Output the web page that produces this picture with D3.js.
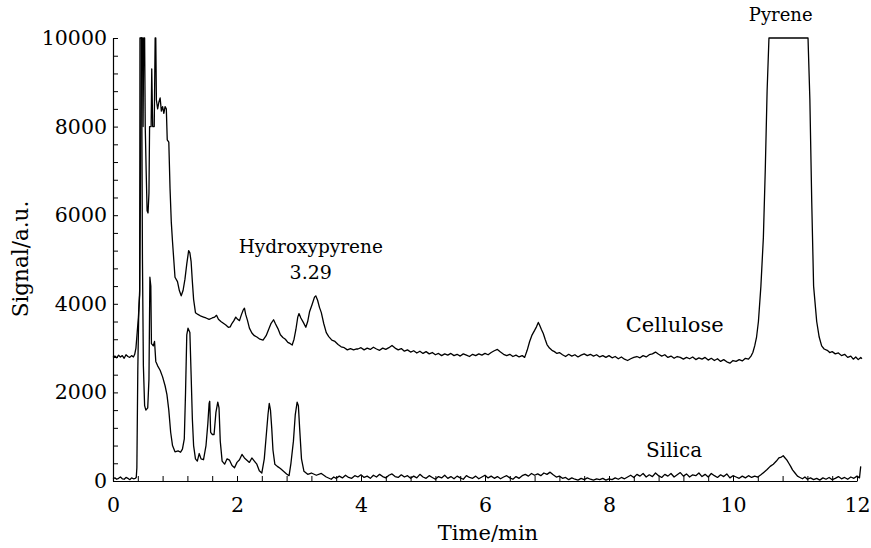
<!DOCTYPE html>
<html><head><meta charset="utf-8">
<script src="https://cdn.jsdelivr.net/npm/d3@7"></script>
<style>
body{margin:0;background:#fff}
svg{display:block}
text{font-family:"DejaVu Serif",serif;fill:#000}
</style>
</head><body>
<svg id="chart" width="871" height="548"></svg>
<script>
// ---- data (time in min, signal in a.u.) ----
const xTickLabels = [0, 2, 4, 6, 8, 10, 12];
const yTickLabels = [0, 2000, 4000, 6000, 8000, 10000];
const xLabel = "Time/min";
const yLabel = "Signal/a.u.";

const cellulose = [
[0.00,2790],[0.03,2820],[0.06,2780],[0.09,2840],[0.12,2800],[0.15,2830],[0.18,2770],[0.21,2850],[0.24,2810],[0.27,2790],[0.30,2830],[0.33,2800],[0.35,2860],
[0.37,3000],[0.39,3350],[0.41,3700],[0.43,4200],[0.445,7000],[0.455,10000],[0.475,10000],[0.485,8000],[0.495,10000],[0.51,10000],[0.52,8000],[0.535,7000],
[0.55,6100],[0.565,6050],[0.58,6500],[0.59,8000],[0.615,8000],[0.625,9300],[0.64,8000],[0.665,8000],[0.68,10000],[0.69,10000],[0.70,8600],[0.72,8400],
[0.74,8550],[0.76,8650],[0.78,8350],[0.80,8450],[0.82,8300],[0.84,8450],[0.86,8400],[0.875,7700],[0.90,7650],[0.92,6600],[0.94,5850],[0.96,5400],[0.98,5000],
[1.00,4600],[1.04,4500],[1.07,4300],[1.10,4180],[1.13,4300],[1.16,4550],[1.19,4900],[1.22,5200],[1.24,5150],[1.26,4950],[1.28,4500],[1.30,4100],[1.33,3800],
[1.37,3760],[1.42,3720],[1.46,3700],[1.50,3680],[1.55,3650],[1.60,3680],[1.64,3700],[1.67,3740],[1.70,3650],[1.74,3600],[1.78,3560],[1.82,3520],[1.86,3470],
[1.89,3480],[1.92,3560],[1.95,3620],[1.98,3700],[2.01,3650],[2.04,3620],[2.07,3750],[2.10,3860],[2.12,3900],[2.14,3760],[2.17,3620],[2.20,3450],[2.24,3340],
[2.28,3280],[2.32,3250],[2.37,3200],[2.42,3180],[2.47,3280],[2.51,3420],[2.55,3560],[2.59,3640],[2.62,3550],[2.66,3440],[2.70,3300],[2.74,3240],[2.78,3200],
[2.82,3130],[2.86,3100],[2.89,3070],[2.92,3200],[2.95,3420],[2.98,3700],[3.00,3780],[3.03,3680],[3.07,3580],[3.11,3470],[3.14,3600],[3.17,3820],[3.21,3980],
[3.25,4150],[3.27,4180],[3.30,4080],[3.33,3920],[3.36,3800],[3.40,3550],[3.44,3350],[3.48,3260],[3.53,3180],[3.58,3150],[3.63,3080],[3.68,3030],[3.73,3010],
[3.78,2960],[3.83,2990],[3.88,2960],[3.93,2980],
[3.95,2980],[4.00,3010],[4.05,2960],[4.10,3000],[4.15,2970],[4.20,3020],[4.25,2980],[4.30,2950],[4.35,3000],[4.40,2970],[4.45,3010],[4.50,3060],[4.55,3000],
[4.60,2960],[4.65,2990],[4.70,2930],[4.75,2960],[4.80,2910],[4.85,2940],[4.90,2890],[4.95,2930],[5.00,2880],[5.05,2920],[5.10,2870],[5.15,2900],[5.20,2850],
[5.25,2880],[5.30,2830],[5.35,2870],[5.40,2840],[5.45,2880],[5.50,2830],[5.55,2860],[5.60,2820],[5.65,2870],[5.70,2840],[5.75,2810],[5.80,2860],[5.85,2830],
[5.90,2870],[5.95,2840],[6.00,2880],[6.05,2850],[6.10,2900],[6.15,2940],[6.20,2970],[6.25,2910],[6.30,2860],[6.35,2830],[6.40,2860],[6.45,2810],[6.50,2840],
[6.55,2800],[6.60,2830],[6.64,2790],[6.68,2950],[6.72,3150],[6.76,3300],[6.80,3400],[6.83,3480],[6.86,3580],[6.88,3520],[6.91,3420],[6.94,3330],[6.97,3200],
[7.00,3080],[7.04,3000],[7.08,2950],[7.12,2920],[7.16,2880],[7.20,2900],[7.25,2850],[7.30,2810],[7.35,2860],[7.40,2820],[7.45,2850],[7.50,2800],[7.55,2840],
[7.60,2870],[7.65,2830],[7.70,2860],[7.75,2820],[7.80,2850],[7.85,2800],[7.90,2830],[7.95,2790],[8.00,2830],[8.05,2780],[8.10,2810],[8.15,2760],[8.20,2800],
[8.25,2750],[8.30,2720],[8.35,2760],[8.40,2790],[8.45,2810],[8.50,2780],[8.55,2830],[8.60,2800],[8.65,2850],[8.70,2870],[8.75,2910],[8.80,2860],[8.85,2820],
[8.90,2850],[8.95,2790],[9.00,2820],[9.05,2770],[9.10,2810],[9.15,2790],[9.20,2750],[9.25,2790],[9.30,2760],[9.35,2800],[9.40,2740],[9.45,2780],[9.50,2750],
[9.55,2790],[9.60,2730],[9.65,2770],[9.70,2720],[9.75,2760],[9.80,2700],[9.85,2740],[9.90,2690],[9.95,2660],[10.00,2720],[10.05,2700],[10.10,2740],[10.15,2710],
[10.20,2770],[10.25,2750],[10.29,2820],[10.32,2900],[10.35,3050],[10.38,3250],[10.41,3600],[10.45,4400],[10.49,5500],[10.52,7000],[10.55,8800],[10.58,10000],
[11.21,10000],[11.24,8600],[11.27,6300],[11.30,4400],[11.35,3600],[11.39,3250],[11.43,3050],[11.47,2980],[11.52,2950],[11.56,2900],[11.60,2920],[11.65,2870],
[11.70,2890],[11.75,2830],[11.80,2860],[11.85,2790],[11.90,2820],[11.94,2750],[11.98,2800],[12.02,2740],[12.06,2790],[12.08,2760]
];

const silica = [
[0.00,50],[0.03,70],[0.06,40],[0.09,60],[0.12,90],[0.15,50],[0.18,40],[0.21,80],[0.24,60],[0.27,30],[0.30,70],[0.33,50],[0.36,60],
[0.375,80],[0.385,300],[0.40,2500],[0.415,3800],[0.43,4300],[0.435,10000],[0.46,10000],[0.475,5000],[0.49,2600],[0.51,1700],[0.53,1600],[0.56,1650],
[0.58,2300],[0.595,4600],[0.61,4400],[0.62,3100],[0.65,3050],[0.67,3150],[0.69,2700],[0.72,2600],[0.76,2500],[0.80,2350],[0.84,2150],[0.87,1950],[0.90,1600],
[0.93,1100],[0.96,800],[1.00,660],[1.05,680],[1.09,650],[1.12,720],[1.15,950],[1.17,2000],[1.19,3300],[1.21,3450],[1.24,3350],[1.26,2400],[1.28,1400],
[1.30,800],[1.33,500],[1.36,450],[1.39,620],[1.42,500],[1.46,480],[1.50,800],[1.53,1300],[1.55,1750],[1.56,1800],[1.575,1100],[1.60,1050],[1.63,1050],
[1.66,1550],[1.69,1780],[1.71,1650],[1.73,900],[1.76,450],[1.80,380],[1.84,500],[1.88,470],[1.92,350],[1.96,300],[2.00,420],[2.04,480],[2.08,600],[2.12,520],
[2.16,470],[2.20,420],[2.24,520],[2.28,450],[2.32,380],[2.36,230],[2.40,180],[2.44,500],[2.47,1000],[2.50,1500],[2.52,1750],[2.54,1600],[2.56,1200],[2.58,700],
[2.61,380],[2.65,330],[2.70,280],[2.75,220],[2.80,160],[2.84,120],[2.87,400],[2.91,900],[2.94,1500],[2.97,1780],[2.99,1700],[3.01,1200],[3.04,500],[3.08,220],
[3.14,150],[3.20,180],[3.28,130],[3.36,170],[3.44,90],[3.52,40],[3.56,90],[3.60,60],[3.65,110],[3.70,70],[3.75,130],[3.80,80],[3.85,60],[3.90,120],[3.95,90],
[4.00,140],[4.05,80],[4.10,110],[4.15,60],[4.20,130],[4.25,90],[4.30,150],[4.35,100],[4.40,70],[4.45,130],[4.50,160],[4.55,100],[4.60,80],[4.65,140],[4.70,90],
[4.75,120],[4.80,60],[4.85,110],[4.90,70],[4.95,150],[5.00,90],[5.05,60],[5.10,120],[5.15,80],[5.20,40],[5.25,100],[5.30,70],[5.35,130],[5.40,60],[5.45,100],
[5.50,50],[5.55,110],[5.60,70],[5.65,40],[5.70,120],[5.75,80],[5.80,60],[5.85,110],[5.90,50],[5.95,90],[6.00,130],[6.05,70],[6.10,110],[6.15,60],[6.20,100],
[6.25,50],[6.30,90],[6.35,120],[6.40,70],[6.45,40],[6.50,100],[6.55,60],[6.60,120],[6.65,150],[6.70,110],[6.75,170],[6.80,130],[6.85,160],[6.90,120],[6.95,180],
[7.00,150],[7.05,200],[7.10,140],[7.15,90],[7.20,110],[7.25,60],[7.30,80],[7.35,30],[7.40,70],[7.45,40],[7.50,20],[7.55,60],[7.60,30],[7.65,70],[7.70,40],
[7.75,20],[7.80,50],[7.85,30],[7.90,60],[7.95,20],[8.00,50],[8.05,30],[8.10,70],[8.15,40],[8.20,80],[8.25,50],[8.30,90],[8.35,130],[8.40,80],[8.45,150],
[8.50,110],[8.55,170],[8.60,90],[8.65,140],[8.70,100],[8.75,180],[8.80,120],[8.85,80],[8.90,150],[8.95,110],[9.00,170],[9.05,90],[9.10,140],[9.15,190],[9.20,110],
[9.25,160],[9.30,90],[9.35,140],[9.40,120],[9.45,180],[9.50,100],[9.55,150],[9.60,90],[9.65,170],[9.70,120],[9.75,80],[9.80,140],[9.85,100],[9.90,160],[9.95,70],
[10.00,120],[10.05,90],[10.10,60],[10.15,110],[10.20,70],[10.25,120],[10.30,80],[10.35,110],[10.40,90],[10.45,140],[10.50,200],[10.55,260],[10.60,330],[10.65,380],
[10.70,450],[10.74,520],[10.78,540],[10.81,570],[10.84,520],[10.87,470],[10.90,400],[10.93,330],[10.96,250],[11.00,180],[11.04,110],[11.08,80],[11.12,50],[11.16,90],
[11.20,40],[11.25,70],[11.30,30],[11.35,60],[11.40,20],[11.45,70],[11.50,40],[11.55,80],[11.60,30],[11.65,60],[11.70,100],[11.75,50],[11.80,80],[11.85,40],
[11.90,90],[11.95,60],[12.00,110],[12.04,70],[12.06,330]
];

// annotations: text, time, signal (anchor centre), font size
const annotations = [
  {text:"Hydroxypyrene", t:3.19, v:5290, fs:18.5},
  {text:"3.29", t:3.19, v:4720, fs:19},
  {text:"Cellulose", t:9.06, v:3520, fs:21},
  {text:"Silica", t:9.05, v:700, fs:20},
  {text:"Pyrene", t:10.77, v:10530, fs:18}
];

// ---- drawing ----
const svg = d3.select("#chart");
const x = d3.scaleLinear().domain([0, 12]).range([113, 857]);
const y = d3.scaleLinear().domain([0, 10000]).range([481, 38]);

const xMinor = d3.range(0, 31).map(i => i * 4 / 10);
const yMinor = d3.range(0, 26).map(i => i * 400);

const gx = svg.append("g").attr("transform", "translate(0,481)")
  .call(d3.axisBottom(x).tickValues(xMinor).tickSizeInner(-5).tickSizeOuter(0).tickPadding(16)
    .tickFormat(d => xTickLabels.includes(d) ? String(d) : ""));
const gy = svg.append("g").attr("transform", "translate(113,0)")
  .call(d3.axisLeft(y).tickValues(yMinor).tickSizeInner(-5).tickSizeOuter(0).tickPadding(6)
    .tickFormat(d => yTickLabels.includes(d) ? String(d) : ""));
[gx, gy].forEach(g => {
  g.selectAll("path.domain").attr("stroke", "#000").attr("stroke-width", 1.2);
  g.selectAll("line").attr("stroke", "#000").attr("stroke-width", 1);
  g.selectAll("text").attr("font-family", '"DejaVu Serif", serif').attr("font-size", 20.5).attr("fill", "#000");
});

const line = d3.line().x(d => x(d[0])).y(d => y(d[1]));
[cellulose, silica].forEach(s => {
  svg.append("path").datum(s).attr("d", line)
    .attr("fill", "none").attr("stroke", "#000").attr("stroke-width", 1.3)
    .attr("stroke-linejoin", "round");
});

annotations.forEach(a => {
  svg.append("text").attr("x", x(a.t)).attr("y", y(a.v)).attr("dy", "0.35em")
    .attr("text-anchor", "middle").attr("font-size", a.fs).text(a.text);
});

svg.append("text").attr("x", 488).attr("y", 533).attr("dy", "0.35em")
  .attr("text-anchor", "middle").attr("font-size", 21).text(xLabel);
svg.append("text").attr("transform", "translate(20,259) rotate(-90)").attr("dy", "0.35em")
  .attr("text-anchor", "middle").attr("font-size", 21.5).text(yLabel);
</script>
</body></html>
